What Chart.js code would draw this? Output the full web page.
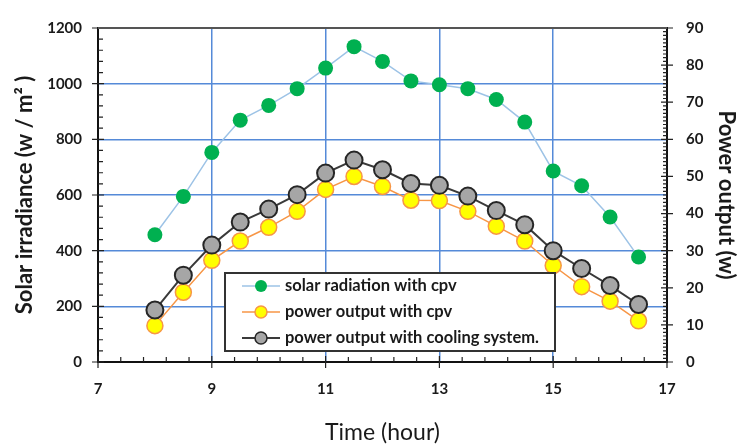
<!DOCTYPE html>
<html>
<head>
<meta charset="utf-8">
<script src="https://cdn.jsdelivr.net/npm/chart.js@4.4.0/dist/chart.umd.min.js"></script>
<style>
  html, body { margin: 0; padding: 0; background: #fff; }
  #wrap { width: 740px; height: 447px; }
</style>
</head>
<body>
<div id="wrap"><canvas id="chart"></canvas></div>
<script>
// data
const hours = [8, 8.5, 9, 9.5, 10, 10.5, 11, 11.5, 12, 12.5, 13, 13.5, 14, 14.5, 15, 15.5, 16, 16.5];
const solarRadiation = [457, 595, 753, 869, 922, 982, 1056, 1133, 1080, 1010, 996, 982, 943, 862, 686, 633, 521, 377];
const powerCpv = [9.8, 18.8, 27.4, 32.6, 36.3, 40.6, 46.5, 50.0, 47.3, 43.6, 43.5, 40.6, 36.6, 32.6, 26.0, 20.3, 16.4, 11.1];
const powerCooling = [14.0, 23.4, 31.5, 37.7, 41.2, 45.1, 50.9, 54.4, 51.8, 48.1, 47.6, 44.7, 40.8, 37.0, 30.0, 25.2, 20.6, 15.5];
const seriesNames = ["solar radiation with cpv", "power output with cpv", "power output with cooling system."];
const xTicks = [7, 9, 11, 13, 15, 17];
const irradianceTicks = [0, 200, 400, 600, 800, 1000, 1200];
const powerTicks = [0, 10, 20, 30, 40, 50, 60, 70, 80, 90];

const FONT = "Lato, 'Open Sans', sans-serif";
const GRID = "#558ad8";

const styles = [
  { line: "#9dc3e6", fill: "#00b050", border: "#00b050", r: 7.5, bw: 0, lw: 1.5 },
  { line: "#f79646", fill: "#ffff00", border: "#f79646", r: 8, bw: 1.5, lw: 1.5 },
  { line: "#3a3a3a", fill: "#a6a6a6", border: "#262626", r: 8.5, bw: 2, lw: 2 },
];

const toPoints = (ys) => hours.map((h, i) => ({ x: h, y: ys[i] }));

// axis frame, minor ticks and the boxed legend
const framePlugin = {
  id: "frame",
  afterDatasetsDraw(chart) {
    const ctx = chart.ctx;
    const { left, right, top, bottom } = chart.chartArea;
    const sx = chart.scales.x, sy = chart.scales.y, sy1 = chart.scales.y1;
    ctx.save();
    ctx.strokeStyle = "#222";
    ctx.lineWidth = 1.2;
    ctx.beginPath();
    for (let i = 0; i <= 25; i++) {
      const px = sx.getPixelForValue(7 + i * 0.4);
      ctx.moveTo(px, bottom); ctx.lineTo(px, bottom - 5);
    }
    xTicks.forEach(v => {
      const px = sx.getPixelForValue(v);
      ctx.moveTo(px, bottom - 6); ctx.lineTo(px, bottom + 6);
    });
    for (let v = 0; v <= 1200; v += 40) {
      const py = sy.getPixelForValue(v);
      ctx.moveTo(left, py); ctx.lineTo(left + 5, py);
    }
    irradianceTicks.forEach(v => {
      const py = sy.getPixelForValue(v);
      ctx.moveTo(left - 6, py); ctx.lineTo(left + 6, py);
    });
    for (let v = 0; v <= 90; v += 1) {
      const py = sy1.getPixelForValue(v);
      ctx.moveTo(right, py); ctx.lineTo(right - 4, py);
    }
    powerTicks.forEach(v => {
      const py = sy1.getPixelForValue(v);
      ctx.moveTo(right - 6, py); ctx.lineTo(right + 6, py);
    });
    ctx.stroke();

    ctx.strokeStyle = "#555";
    ctx.lineWidth = 2;
    ctx.beginPath();
    ctx.moveTo(left, top); ctx.lineTo(right, top);
    ctx.stroke();

    // legend
    const bx = 225, by = 273, bw = 330, bh = 78;
    ctx.fillStyle = "#fff";
    ctx.fillRect(bx, by, bw, bh);
    ctx.strokeStyle = "#333";
    ctx.lineWidth = 2;
    ctx.strokeRect(bx, by, bw, bh);
    ctx.font = "bold 16.5px " + FONT;
    ctx.textBaseline = "middle";
    seriesNames.forEach((name, i) => {
      const st = styles[i];
      const y = by + 13 + i * 26;
      ctx.strokeStyle = st.line;
      ctx.lineWidth = st.lw;
      ctx.beginPath();
      ctx.moveTo(bx + 17, y); ctx.lineTo(bx + 55, y);
      ctx.stroke();
      ctx.beginPath();
      ctx.arc(bx + 36, y, 6, 0, Math.PI * 2);
      ctx.fillStyle = st.fill;
      ctx.fill();
      if (st.bw) { ctx.strokeStyle = st.border; ctx.lineWidth = 1.5; ctx.stroke(); }
      ctx.fillStyle = "#1a1a1a";
      ctx.fillText(name, bx + 60, y);
    });
    ctx.restore();
  },
};

const datasets = [solarRadiation, powerCpv, powerCooling].map((ys, i) => ({
  label: seriesNames[i],
  data: toPoints(ys),
  yAxisID: i === 0 ? "y" : "y1",
  borderColor: styles[i].line,
  borderWidth: styles[i].lw,
  pointBackgroundColor: styles[i].fill,
  pointBorderColor: styles[i].border,
  pointBorderWidth: styles[i].bw,
  pointRadius: styles[i].r,
  tension: 0,
  order: [0, 2, 1][i],
}));

const plain = (v) => String(v);

new Chart(document.getElementById("chart"), {
  type: "line",
  data: { datasets },
  plugins: [framePlugin],
  options: {
    responsive: true,
    maintainAspectRatio: false,
    animation: false,
    layout: { padding: { top: 21, left: 0, right: 0, bottom: 0 } },
    plugins: { legend: { display: false }, tooltip: { enabled: false } },
    scales: {
      x: {
        type: "linear",
        min: 7, max: 17,
        afterBuildTicks: (s) => { s.ticks = xTicks.map(v => ({ value: v })); },
        afterFit: (s) => { s.height = 85; },
        grid: { color: (c) => (c.tick && (c.tick.value === 7 || c.tick.value === 17)) ? "rgba(0,0,0,0)" : GRID, lineWidth: 1.5, drawTicks: false },
        border: { color: "#111", width: 2 },
        ticks: { padding: 18, color: "#1a1a1a", callback: plain, font: { family: FONT, size: 15, weight: "bold" }, maxRotation: 0 },
        title: { display: true, text: "Time (hour)", color: "#1a1a1a", font: { family: FONT, size: 23 }, padding: { top: 0, bottom: 1 } },
      },
      y: {
        position: "left",
        min: 0, max: 1200,
        afterBuildTicks: (s) => { s.ticks = irradianceTicks.map(v => ({ value: v })); },
        afterFit: (s) => { s.width = 98; },
        grid: { color: (c) => (c.tick && (c.tick.value === 0 || c.tick.value === 1200)) ? "rgba(0,0,0,0)" : GRID, lineWidth: 1.5, drawTicks: false },
        border: { color: "#111", width: 2 },
        ticks: { padding: 16, color: "#1a1a1a", callback: plain, font: { family: FONT, size: 15, weight: "bold" } },
        title: { display: true, text: "Solar irradiance (w / m² )", color: "#1a1a1a", font: { family: FONT, size: 22, weight: "bold" }, padding: { top: 12, bottom: 0 } },
      },
      y1: {
        position: "right",
        min: 0, max: 90,
        afterBuildTicks: (s) => { s.ticks = powerTicks.map(v => ({ value: v })); },
        afterFit: (s) => { s.width = 73; },
        grid: { drawOnChartArea: false, drawTicks: false },
        border: { color: "#111", width: 2 },
        ticks: { padding: 19, color: "#1a1a1a", callback: plain, font: { family: FONT, size: 15, weight: "bold" } },
        title: { display: true, text: "Power output (w)", color: "#1a1a1a", font: { family: FONT, size: 22, weight: "bold" }, padding: { top: 1, bottom: 0 } },
      },
    },
  },
});
</script>
</body>
</html>
